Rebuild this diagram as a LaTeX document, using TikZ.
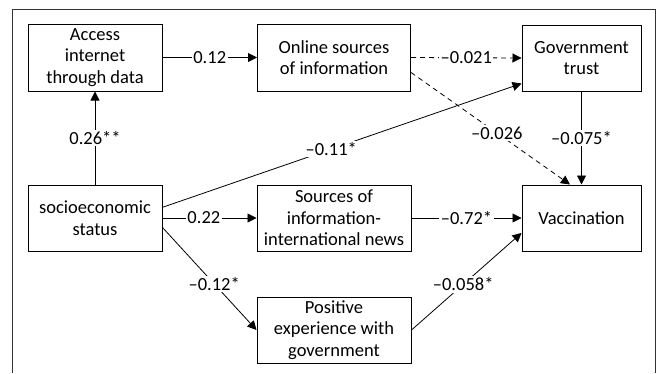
\documentclass[tikz,border=0pt]{standalone}
\usepackage{fontspec}
\setmainfont{Carlito}
\usetikzlibrary{arrows.meta, positioning}

\begin{document}
\begin{tikzpicture}[x=1pt, y=-1pt,
    every node/.style={font=\fontsize{18.5}{21.7}\selectfont},
    box/.style={draw, line width=1pt, align=center, inner sep=0pt},
    arr/.style={line width=0.8pt, -{Triangle[length=9pt, width=9pt]}},
    dsh/.style={arr, dash pattern=on 5pt off 4pt},
    lbl/.style={fill=white, inner sep=1.5pt}]
    % Canvas and open frame
    \useasboundingbox (0,0) rectangle (660,373);
    \draw[line width=0.9pt, black!80] (12.5,373) -- (12.5,9.5) -- (655,9.5) -- (655,373);

    % Top row
    \node[box, minimum width=134pt, minimum height=67pt] (access) at (95,57.5) {Access\\internet\\through data};
    \node[box, minimum width=153pt, minimum height=67pt] (online) at (334,57.5) {Online sources\\of information};
    \node[box, minimum width=119pt, minimum height=66pt] (gov) at (581.5,58) {Government\\trust};

    % Middle row
    \node[box, minimum width=134pt, minimum height=66pt] (socio) at (95,218) {socioeconomic\\status};
    \node[box, minimum width=154pt, minimum height=66pt] (sources) at (334,218) {Sources of\\information-\\international news};
    \node[box, minimum width=119pt, minimum height=66pt] (vacc) at (581.5,218) {Vaccination};

    % Bottom row
    \node[box, minimum width=154pt, minimum height=66pt] (positive) at (334,330) {Positive\\experience with\\government};

    % Paths from socioeconomic status
    \draw[arr] (socio.north) -- node[lbl] {0.26**} (access.south);
    \draw[arr] (socio.9) -- node[lbl, pos=0.47] {--0.11*} (gov.203);
    \draw[arr] (socio.east) -- node[lbl, pos=0.44] {0.22} (sources.west);
    \draw[arr] (socio.-8) -- node[lbl, pos=0.55] {--0.12*} (positive.west);

    % Paths through online sources
    \draw[arr] (access.east) -- node[lbl] {0.12} (online.west);
    \draw[dsh] (online.east) -- node[lbl] {--0.021} (gov.west);
    \draw[dsh] (online.-11) -- node[lbl, pos=0.54] {--0.026} (vacc.109);

    % Paths into vaccination
    \draw[arr] (gov.south) -- node[lbl] {--0.075*} (vacc.north);
    \draw[arr] (sources.east) -- node[lbl] {--0.72*} (vacc.west);
    \draw[arr] (positive.east) -- node[lbl, pos=0.47] {--0.058*} (vacc.194);
\end{tikzpicture}
\end{document}
